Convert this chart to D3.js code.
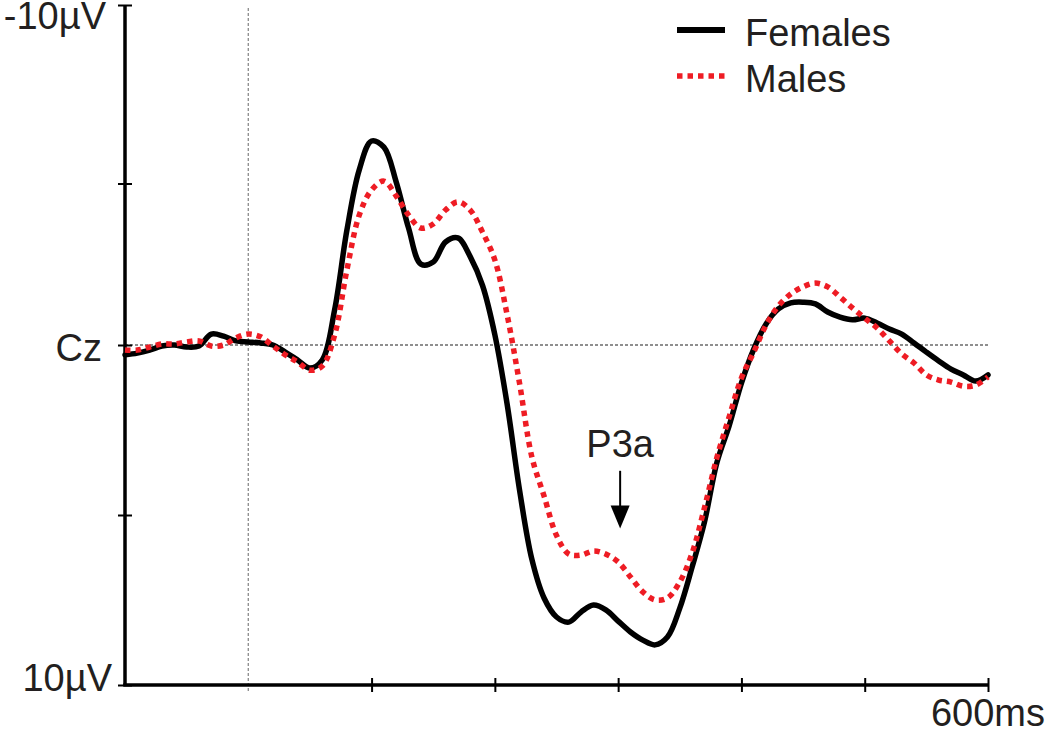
<!DOCTYPE html>
<html>
<head>
<meta charset="utf-8">
<script src="https://cdn.jsdelivr.net/npm/d3@7"></script>
<style>
  html, body { margin: 0; padding: 0; background: #fff; }
  svg { display: block; }
  text { font-family: "Liberation Sans", Arial, Helvetica, sans-serif; fill: #231f20; }
</style>
</head>
<body>
<svg id="chart" width="1050" height="729"></svg>
<script>
// ---- data ----
const timesMs = d3.range(-100, 601, 10);
const females = [0.29,0.24,0.15,0.03,0.0,0.06,0.03,-0.32,-0.26,-0.12,
  -0.09,-0.06,0.0,0.21,0.44,0.68,0.44,-1.03,-3.38,-5.15,
  -6.0,-5.82,-4.79,-3.44,-2.38,-2.44,-3.03,-3.15,-2.6,-1.75,
  -0.3,1.75,4.26,6.3,7.45,8.0,8.15,7.85,7.65,7.79,
  8.12,8.44,8.68,8.82,8.59,7.74,6.53,5.21,3.47,2.38,
  1.12,0.12,-0.62,-1.06,-1.24,-1.26,-1.21,-0.97,-0.82,-0.74,
  -0.79,-0.65,-0.47,-0.32,-0.06,0.21,0.47,0.71,0.88,1.06,0.88];
const males = [0.15,0.15,0.06,-0.03,-0.03,-0.09,-0.12,0.03,0.0,-0.21,
  -0.32,-0.24,0.03,0.29,0.5,0.74,0.62,-0.29,-2.21,-3.82,
  -4.56,-4.82,-4.38,-3.82,-3.44,-3.56,-3.97,-4.21,-3.97,-3.32,
  -2.5,-0.88,1.12,3.29,4.45,5.6,6.15,6.18,6.06,6.15,
  6.38,6.82,7.26,7.5,7.44,6.97,6.12,4.79,3.32,2.12,
  0.97,0.21,-0.59,-1.15,-1.5,-1.71,-1.82,-1.71,-1.41,-1.09,
  -0.79,-0.5,-0.12,0.26,0.53,0.88,1.03,1.09,1.21,1.18,0.94];
const seriesNames = ["Females", "Males"];
const xDomain = [-100, 600];
const yDomain = [-10, 10];
const xTickValues = [100, 200, 300, 400, 500, 600];
const xTickLabels = ["", "", "", "", "", "600ms"];
const yTickValues = [-10, -4.75, 0, 5, 10];
const yLabelValues = [-10, 0, 10];
const yLabelTexts = ["-10µV", "Cz", "10µV"];
const annotation = { t: 300, label: "P3a", arrowFrom: 3.7, arrowTo: 5.4, labelAt: 3.3 };

// ---- layout ----
const svg = d3.select("#chart");
const x = d3.scaleLinear().domain(xDomain).range([125, 988]);
const y = d3.scaleLinear().domain(yDomain).range([5, 685]);
const FS = 38;

// reference lines (dashed)
svg.append("line")
  .attr("x1", x(0)).attr("x2", x(0)).attr("y1", 8).attr("y2", 691)
  .attr("stroke", "#8a8a8a").attr("stroke-width", 1.3).attr("stroke-dasharray", "3,2");
svg.append("line")
  .attr("x1", x(-100)).attr("x2", x(600) + 2).attr("y1", y(0)).attr("y2", y(0))
  .attr("stroke", "#6a6a6a").attr("stroke-width", 1.3).attr("stroke-dasharray", "3,2");

// y axis
const yAxis = svg.append("g").attr("transform", `translate(${x(-100)},0)`)
  .call(d3.axisLeft(y).tickValues(yTickValues).tickSize(7).tickFormat(""));
yAxis.select(".domain").attr("stroke", "#000").attr("stroke-width", 3.5).attr("d", `M0,${y(-10)}V${y(10)}`);
yAxis.selectAll(".tick line").attr("x1", 7).attr("x2", -7).attr("stroke", "#000").attr("stroke-width", 2);

// x axis
const xAxis = svg.append("g").attr("transform", `translate(0,${y(10)})`)
  .call(d3.axisBottom(x).tickValues(xTickValues).tickSize(7).tickFormat(""));
xAxis.select(".domain").attr("stroke", "#000").attr("stroke-width", 3.5).attr("d", `M${x(-100) - 1.75},0H${x(600)}`);
xAxis.selectAll(".tick line").attr("y1", -7).attr("y2", 7).attr("stroke", "#000").attr("stroke-width", 2);

// x tick labels
svg.selectAll("text.xlab").data(xTickValues.map((v, i) => ({ v, t: xTickLabels[i] })).filter(d => d.t))
  .enter().append("text").attr("class", "xlab")
  .attr("x", d => x(d.v)).attr("y", y(10) + 41)
  .attr("text-anchor", "middle").attr("font-size", FS).text(d => d.t);

// y labels
const yLabelDy = { "-10": 24, "0": 16, "10": 6 };
const yLabelEnd = { "-10": 106, "0": 102, "10": 112 };
svg.selectAll("text.ylab").data(yLabelValues.map((v, i) => ({ v, t: yLabelTexts[i] })))
  .enter().append("text").attr("class", "ylab")
  .attr("x", d => yLabelEnd[d.v]).attr("y", d => y(d.v) + yLabelDy[d.v])
  .attr("text-anchor", "end").attr("font-size", FS).text(d => d.t);

// curves
const line = d3.line().x((d, i) => x(timesMs[i])).y(d => y(d)).curve(d3.curveCatmullRom.alpha(0.5));
svg.append("path").datum(females).attr("d", line)
  .attr("fill", "none").attr("stroke", "#000").attr("stroke-width", 5.5)
  .attr("stroke-linejoin", "round").attr("stroke-linecap", "round");
svg.append("path").datum(males).attr("d", line)
  .attr("fill", "none").attr("stroke", "#ee1c24").attr("stroke-width", 5.5)
  .attr("stroke-dasharray", "5.5,5");

// annotation
svg.append("text").attr("x", x(annotation.t) + 2).attr("y", y(annotation.labelAt))
  .attr("text-anchor", "middle").attr("font-size", FS).text(annotation.label);
const ax = x(annotation.t) + 2;
svg.append("line").attr("x1", ax).attr("x2", ax)
  .attr("y1", y(annotation.arrowFrom)).attr("y2", y(annotation.arrowTo) - 18)
  .attr("stroke", "#000").attr("stroke-width", 2);
svg.append("path")
  .attr("d", `M${ax - 9.5},${y(annotation.arrowTo) - 23}L${ax + 9.5},${y(annotation.arrowTo) - 23}L${ax},${y(annotation.arrowTo)}Z`)
  .attr("fill", "#000");

// legend
const legend = svg.append("g");
const legendStyles = [
  { color: "#000", dash: null, width: 6 },
  { color: "#ee1c24", dash: "5.5,5", width: 5.5 }
];
seriesNames.forEach((name, i) => {
  const ly = 30 + i * 46;
  legend.append("line").attr("x1", 677).attr("x2", 725).attr("y1", ly).attr("y2", ly)
    .attr("stroke", legendStyles[i].color).attr("stroke-width", legendStyles[i].width)
    .attr("stroke-dasharray", legendStyles[i].dash);
  legend.append("text").attr("x", 745).attr("y", ly + 16).attr("font-size", FS).text(name);
});
</script>
</body>
</html>
